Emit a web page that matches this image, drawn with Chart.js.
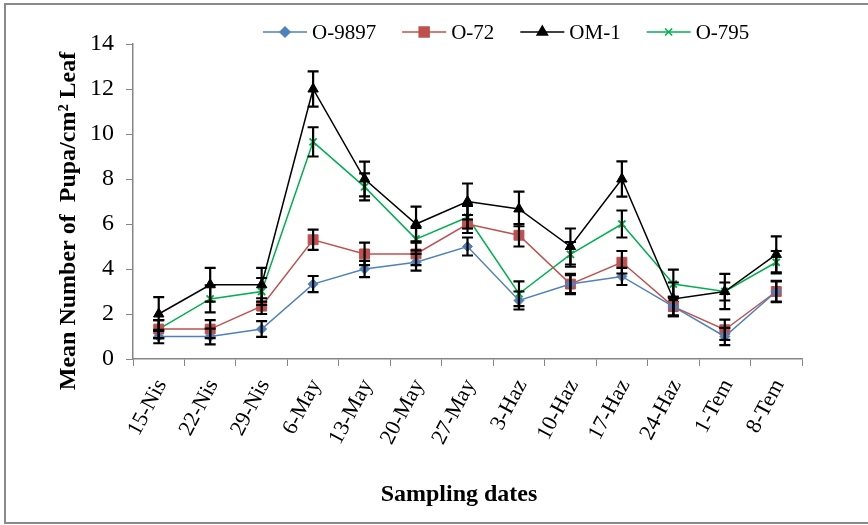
<!DOCTYPE html>
<html>
<head>
<meta charset="utf-8">
<script src="https://cdn.jsdelivr.net/npm/chart.js@4/dist/chart.umd.min.js"></script>
<style>
  html, body { margin: 0; padding: 0; background: #fff; }
  #wrap { width: 868px; height: 525px; }
</style>
</head>
<body>
<div id="wrap"><canvas id="pupaChart" width="868" height="525"></canvas></div>
<script>
// sampling dates (x categories)
const dates = ["15-Nis", "22-Nis", "29-Nis", "6-May", "13-May", "20-May", "27-May",
               "3-Haz", "10-Haz", "17-Haz", "24-Haz", "1-Tem", "8-Tem"];

// mean pupa per cm2 leaf, per variety
const o9897 = [1, 1, 1.33, 3.33, 4, 4.3, 5, 2.6, 3.33, 3.67, 2.33, 1, 3];
const o72   = [1.33, 1.33, 2.35, 5.3, 4.67, 4.67, 6, 5.5, 3.33, 4.3, 2.33, 1.3, 3];
const om1   = [2, 3.3, 3.3, 12, 8, 6, 7, 6.67, 5, 8, 2.67, 3, 4.65];
const o795  = [1.33, 2.67, 3, 9.65, 7.65, 5.33, 6.3, 2.9, 4.65, 6, 3.33, 3, 4.3];

// standard errors
const errO9897 = [0.3, 0.35, 0.35, 0.36, 0.36, 0.37, 0.4, 0.4, 0.45, 0.38, 0.43, 0.38, 0.47];
const errO72   = [0.4, 0.4, 0.35, 0.45, 0.5, 0.5, 0.4, 0.5, 0.4, 0.5, 0.43, 0.45, 0.45];
const errOM1   = [0.75, 0.75, 0.75, 0.78, 0.77, 0.77, 0.8, 0.77, 0.8, 0.78, 0.73, 0.78, 0.8];
const errO795  = [0.4, 0.6, 0.6, 0.65, 0.6, 0.5, 0.5, 0.55, 0.55, 0.6, 0.64, 0.4, 0.5];

const yTicks = [0, 2, 4, 6, 8, 10, 12, 14];
const yTitle = "Mean Number of  Pupa/cm² Leaf";
const xTitle = "Sampling dates";

const SERIF = "'Liberation Serif', 'Times New Roman', serif";

function makeSet(label, data, errs, color, style, radius) {
    return {
        label,
        data,
        errs,
        borderColor: color,
        backgroundColor: color,
        borderWidth: 1.5,
        pointStyle: style,
        pointRadius: radius,
        pointBorderWidth: style === "crossRot" ? 2 : 1,
        pointBorderColor: color,
        pointBackgroundColor: color,
        tension: 0
    };
}

// outer frame + white bg
const framePlugin = {
    id: "frame",
    beforeDraw(chart) {
        const ctx = chart.ctx;
        ctx.save();
        ctx.fillStyle = "#fff";
        ctx.fillRect(0, 0, chart.width, chart.height);
        ctx.strokeStyle = "#8a8a8a";
        ctx.lineWidth = 2;
        ctx.strokeRect(5, 4, 900, 519);
        ctx.restore();
    }
};

// black error bars with caps
const errorBarPlugin = {
    id: "errorBars",
    afterDatasetsDraw(chart) {
        const ctx = chart.ctx;
        const xs = chart.scales.x;
        const ys = chart.scales.y;
        ctx.save();
        ctx.strokeStyle = "#000";
        ctx.lineWidth = 2.2;
        chart.data.datasets.forEach(ds => {
            ds.data.forEach((v, i) => {
                const e = ds.errs[i];
                const x = xs.getPixelForValue(i);
                const yt = ys.getPixelForValue(v + e);
                const yb = ys.getPixelForValue(v - e);
                ctx.beginPath();
                ctx.moveTo(x, yt); ctx.lineTo(x, yb);
                ctx.moveTo(x - 5.5, yt); ctx.lineTo(x + 5.5, yt);
                ctx.moveTo(x - 5.5, yb); ctx.lineTo(x + 5.5, yb);
                ctx.stroke();
            });
        });
        ctx.restore();
    }
};

// excel-like legend: line with marker then label; plus axis titles
const legendPlugin = {
    id: "lineLegend",
    afterDraw(chart) {
        const ctx = chart.ctx;
        let x = 263;
        const y = 32;
        ctx.save();
        ctx.font = "21px " + SERIF;
        ctx.textBaseline = "middle";
        chart.data.datasets.forEach(ds => {
            ctx.strokeStyle = ds.borderColor;
            ctx.lineWidth = 1.5;
            ctx.beginPath();
            ctx.moveTo(x, y); ctx.lineTo(x + 44, y);
            ctx.stroke();
            ctx.fillStyle = ds.pointBackgroundColor;
            ctx.strokeStyle = ds.pointBorderColor;
            Chart.helpers.drawPoint(ctx, {
                pointStyle: ds.pointStyle,
                radius: ds.pointRadius,
                rotation: 0,
                borderWidth: ds.pointBorderWidth
            }, x + 22, y);
            ctx.fillStyle = "#000";
            ctx.fillText(ds.label, x + 49, y + 1);
            x += 49 + ctx.measureText(ds.label).width + 26;
        });

        ctx.font = "bold 24px " + SERIF;
        ctx.textAlign = "center";
        ctx.fillText(xTitle, 459, 495);

        ctx.translate(69, 221);
        ctx.rotate(-Math.PI / 2);
        ctx.fillText(yTitle, 0, 0);
        ctx.restore();
    }
};

new Chart(document.getElementById("pupaChart"), {
    type: "line",
    data: {
        labels: dates,
        datasets: [
            makeSet("O-9897", o9897, errO9897, "#4f81bd", "rectRot", 5),
            makeSet("O-72", o72, errO72, "#c0504d", "rect", 7),
            makeSet("OM-1", om1, errOM1, "#000000", "triangle", 6),
            makeSet("O-795", o795, errO795, "#00b050", "crossRot", 5)
        ]
    },
    options: {
        responsive: false,
        maintainAspectRatio: false,
        animation: false,
        layout: { padding: { left: 51, top: 44, right: 66, bottom: 17 } },
        plugins: {
            legend: { display: false },
            tooltip: { enabled: false }
        },
        scales: {
            x: {
                type: "category",
                offset: true,
                grid: {
                    offset: true,
                    drawOnChartArea: false,
                    drawTicks: true,
                    tickLength: 7,
                    color: "#868686"
                },
                border: { color: "#868686", width: 1.5 },
                ticks: {
                    color: "#000",
                    font: { family: SERIF, size: 22 },
                    minRotation: 62,
                    maxRotation: 62,
                    autoSkip: false,
                    padding: 9,
                    labelOffset: 3
                },
                afterFit(scale) { scale.height = 149; }
            },
            y: {
                min: 0,
                max: 14,
                afterBuildTicks(scale) { scale.ticks = yTicks.map(v => ({ value: v })); },
                grid: {
                    drawOnChartArea: false,
                    drawTicks: true,
                    tickLength: 7,
                    color: "#868686"
                },
                border: { color: "#868686", width: 1.5 },
                ticks: {
                    color: "#000",
                    font: { family: SERIF, size: 24 },
                    padding: 12
                },
                afterFit(scale) { scale.width = 82; }
            }
        }
    },
    plugins: [framePlugin, errorBarPlugin, legendPlugin]
});
</script>
</body>
</html>
